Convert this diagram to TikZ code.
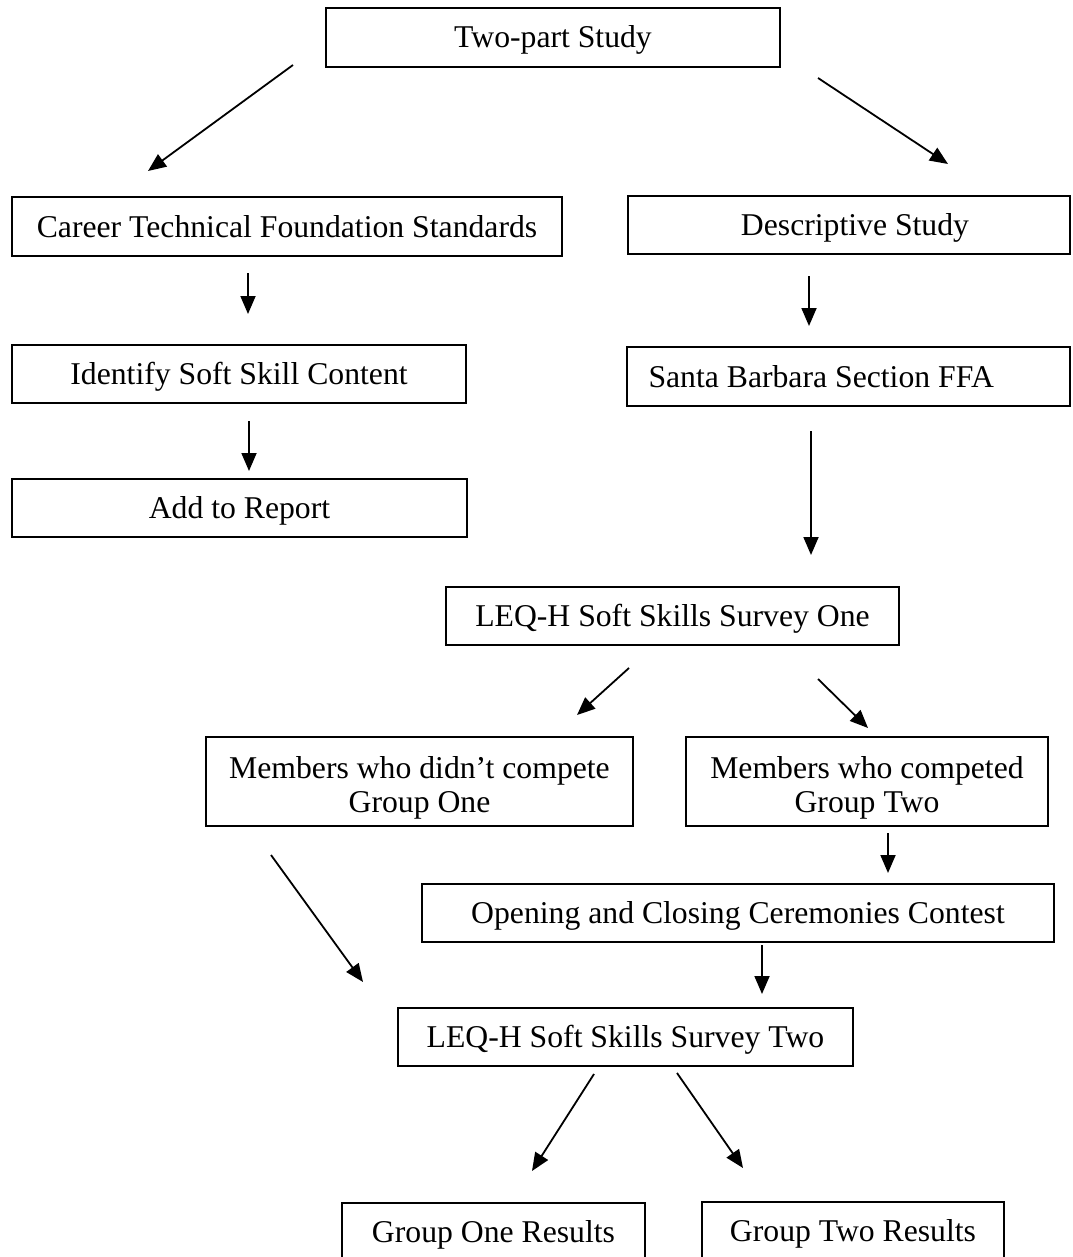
\documentclass[tikz,border=0pt]{standalone}
\usepackage{fontspec}
\setmainfont{Liberation Serif}
\usetikzlibrary{arrows.meta}
\begin{document}
\begin{tikzpicture}[x=1pt,y=-1pt,
  box/.style={draw=black, line width=1.7pt, rectangle, inner sep=0pt,
    font=\fontsize{31.7}{34.5}\selectfont, text height=21pt, text depth=0pt},
  emptybox/.style={draw=black, line width=1.7pt, rectangle, inner sep=0pt},
  twoline/.style={font=\fontsize{31.7}{34.5}\selectfont, align=center, inner sep=0pt},
  arr/.style={line width=1.8pt, -{Triangle[length=18pt,width=15pt]}}]
\useasboundingbox (0,0) rectangle (1072,1257);

% boxes
\node[box, minimum width=454pt, minimum height=59pt] (tp) at (553,37.5) {Two-part Study};
\node[box, minimum width=550pt, minimum height=59pt] (ct) at (287,226.5) {Career Technical Foundation Standards};
\node[box, minimum width=442pt, minimum height=58pt] (ds) at (849,225) {\hspace*{12pt}Descriptive Study};
\node[box, minimum width=454pt, minimum height=58pt] (id) at (239,374) {Identify Soft Skill Content};
\node[box, minimum width=443pt, minimum height=59pt, inner xsep=21.5pt] (sb) at (848.5,376.5) {\makebox[400pt][l]{Santa Barbara Section FFA}};
\node[box, minimum width=455pt, minimum height=58pt] (ar) at (239.5,508) {Add to Report};
\node[box, minimum width=453pt, minimum height=58pt] (l1) at (672.5,616) {LEQ-H Soft Skills Survey One};
\node[emptybox, minimum width=427pt, minimum height=89pt] (g1) at (419.5,781.5) {};
\node[twoline, yshift=-6.4pt] (g1t) at (g1.center) {Members who didn’t compete\\Group One};
\node[emptybox, minimum width=362pt, minimum height=89pt] (g2) at (867,781.5) {};
\node[twoline, yshift=-6.4pt] (g2t) at (g2.center) {Members who competed\\Group Two};
\node[box, minimum width=632pt, minimum height=58pt] (oc) at (738,913) {Opening and Closing Ceremonies Contest};
\node[box, minimum width=455pt, minimum height=58pt] (l2) at (625.5,1037) {LEQ-H Soft Skills Survey Two};
\node[box, minimum width=303pt, minimum height=58pt] (r1) at (493.5,1232) {Group One Results};
\node[box, minimum width=302pt, minimum height=58pt] (r2) at (853,1231) {Group Two Results};

% arrow end points
\coordinate (a1s) at (293,65);   \coordinate (a1e) at (148,171);
\coordinate (a2s) at (818,78);   \coordinate (a2e) at (948,164);
\coordinate (a3s) at (248,273);  \coordinate (a3e) at (248,314);
\coordinate (a4s) at (809,276);  \coordinate (a4e) at (809,326);
\coordinate (a5s) at (249,421);  \coordinate (a5e) at (249,471);
\coordinate (a6s) at (811,431);  \coordinate (a6e) at (811,555);
\coordinate (a7s) at (629,668);  \coordinate (a7e) at (577,715);
\coordinate (a8s) at (818,679);  \coordinate (a8e) at (868,728);
\coordinate (a9s) at (888,833);  \coordinate (a9e) at (888,873);
\coordinate (a10s) at (271,855); \coordinate (a10e) at (363,982);
\coordinate (a11s) at (762,945); \coordinate (a11e) at (762,994);
\coordinate (a12s) at (594,1074); \coordinate (a12e) at (532,1171);
\coordinate (a13s) at (677,1073); \coordinate (a13e) at (743,1168);

% connectors
\draw[arr] (a1s) -- (a1e);
\draw[arr] (a2s) -- (a2e);
\draw[arr] (a3s) -- (a3e);
\draw[arr] (a4s) -- (a4e);
\draw[arr] (a5s) -- (a5e);
\draw[arr] (a6s) -- (a6e);
\draw[arr] (a7s) -- (a7e);
\draw[arr] (a8s) -- (a8e);
\draw[arr] (a9s) -- (a9e);
\draw[arr] (a10s) -- (a10e);
\draw[arr] (a11s) -- (a11e);
\draw[arr] (a12s) -- (a12e);
\draw[arr] (a13s) -- (a13e);
\end{tikzpicture}
\end{document}
